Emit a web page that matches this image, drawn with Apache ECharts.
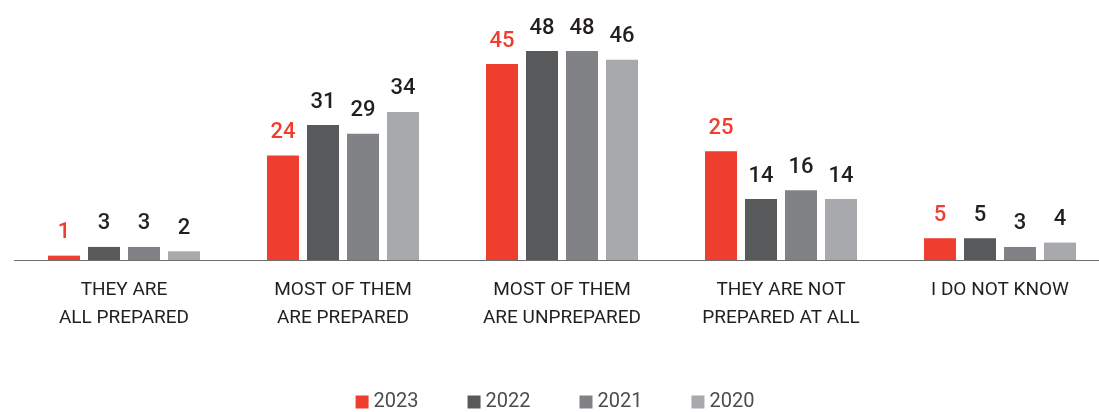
<!DOCTYPE html>
<html><head><meta charset="utf-8">
<script src="https://cdn.jsdelivr.net/npm/echarts@6/dist/echarts.min.js"></script>
<style>html,body{margin:0;padding:0;background:#fff;overflow:hidden;width:1099px;height:412px}#c{width:1110px;height:412px}</style>
</head><body><div id="c"></div>
<script>
const categories = ['THEY ARE\nALL PREPARED','MOST OF THEM\nARE PREPARED','MOST OF THEM\nARE UNPREPARED','THEY ARE NOT\nPREPARED AT ALL','I DO NOT KNOW'];
const seriesNames = ['2023','2022','2021','2020'];
const v2023 = [1,24,45,25,5];
const v2022 = [3,31,48,14,5];
const v2021 = [3,29,48,16,3];
const v2020 = [2,34,46,14,4];
const colors = ['#EF3E2E','#58595B','#808285','#A7A9AC'];
const labelColors = ['#EF3E2E','#231F20','#231F20','#231F20'];
const values = [v2023,v2022,v2021,v2020];
const chart = echarts.init(document.getElementById('c'));
chart.setOption({
  animation:false,
  textStyle:{fontFamily:'Roboto'},
  grid:{left:14.5,width:1095,top:51,bottom:152},
  legend:{top:387,left:'center',itemWidth:13,itemHeight:13,itemGap:49,icon:'rect',
    textStyle:{fontSize:20,color:'#4d4d4f',fontFamily:'Roboto'},data:seriesNames},
  xAxis:{type:'category',data:categories,axisLine:{lineStyle:{color:'#6d6e70',width:1}},axisTick:{show:false},
    axisLabel:{fontSize:19,color:'#231F20',lineHeight:28,margin:16,interval:0,fontFamily:'Roboto'}},
  yAxis:{type:'value',min:0,max:48,show:false,splitLine:{show:false}},
  series:values.map((v,i)=>({name:seriesNames[i],type:'bar',data:v,barWidth:32,barGap:'25%',
    itemStyle:{color:colors[i]},
    label:{show:true,position:'top',distance:12,fontSize:22,fontWeight:500,color:labelColors[i],fontFamily:'Roboto'}}))
});
</script></body></html>
